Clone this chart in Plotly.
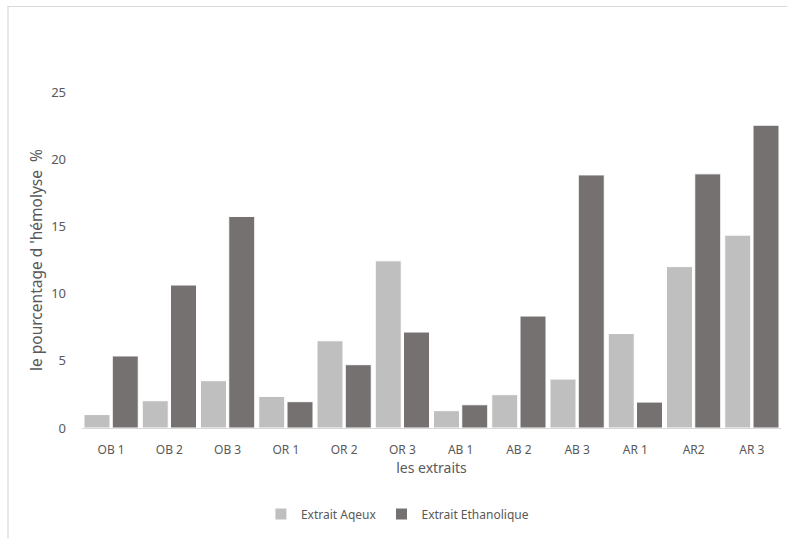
import plotly.graph_objects as go

# Extracts tested
categories = ["OB 1", "OB 2", "OB 3", "OR 1", "OR 2", "OR 3",
              "AB 1", "AB 2", "AB 3", "AR 1", "AR2", "AR 3"]

# Haemolysis percentage per extract
aqueux = [1.0, 2.03, 3.52, 2.35, 6.49, 12.44, 1.29, 2.48, 3.64, 7.03, 12.01, 14.35]
ethanolique = [5.36, 10.64, 15.74, 1.96, 4.71, 7.14, 1.73, 8.33, 18.83, 1.93, 18.91, 22.53]

y_ticks = [0, 5, 10, 15, 20, 25]

W, H = 787, 538
ML, MR, MT, MB = 82, 6, 92, 110
TXT = "#595959"
FONT = "Noto Sans"

fig = go.Figure()
fig.add_trace(go.Bar(
    name="Extrait Aqeux", x=categories, y=aqueux,
    marker=dict(color="#BFBFBF", line=dict(color="white", width=1)),
))
fig.add_trace(go.Bar(
    name="Extrait Ethanolique", x=categories, y=ethanolique,
    marker=dict(color="#767171", line=dict(color="white", width=1)),
))

# outer chart frame (top-left corner visible, runs off the page edges)
pw = W - ML - MR
ph = H - MT - MB
x0 = (8 - ML) / pw
x1 = (W + 5 - ML) / pw
y_top = (H - MB - 6.5) / ph
y_bot = (H - MB - (H + 5)) / ph

fig.update_layout(
    width=W, height=H,
    margin=dict(l=ML, r=MR, t=MT, b=MB, autoexpand=False),
    paper_bgcolor="white", plot_bgcolor="white",
    barmode="group", bargap=0.03, bargroupgap=0.08,
    font=dict(family=FONT, color=TXT, size=12),
    showlegend=True,
    legend=dict(orientation="h", xref="container", yref="container",
                x=0.505, xanchor="center", y=1 - 514 / H, yanchor="middle",
                bgcolor="rgba(0,0,0,0)",
                font=dict(size=12, color=TXT), itemwidth=30, traceorder="normal"),
    xaxis=dict(
        automargin=False,
        showgrid=False, showline=True, linecolor="#D9D9D9", linewidth=1,
        ticks="", tickfont=dict(size=12, color=TXT), ticklabelstandoff=11,
        title=dict(text="les extraits", font=dict(size=14, color=TXT), standoff=0),
    ),
    yaxis=dict(
        automargin=False,
        range=[0, 25], tickvals=y_ticks, showgrid=False, zeroline=False,
        showline=False, ticks="", tickfont=dict(size=13, color=TXT),
        ticklabelstandoff=15,
        title=dict(text="le pourcentage d 'hémolyse  %", font=dict(size=15.5, color=TXT),
                   standoff=4),
    ),
    shapes=[dict(type="rect", xref="paper", yref="paper",
                 x0=x0, x1=x1, y0=y_bot, y1=y_top,
                 line=dict(color="#D9D9D9", width=1.2), fillcolor="rgba(0,0,0,0)",
                 layer="below")],
)

fig.write_html("out.html")
